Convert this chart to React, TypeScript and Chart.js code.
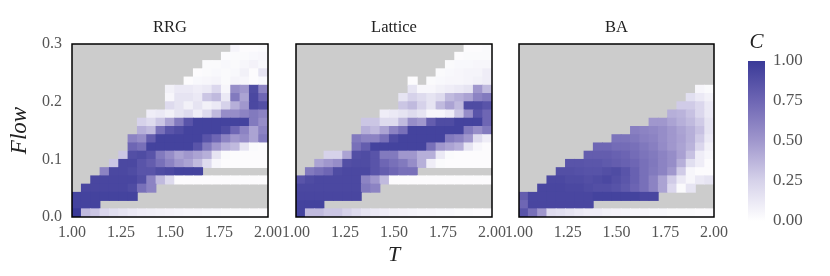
import { useEffect, useRef } from "react";
import { Chart, registerables } from "chart.js";

Chart.register(...registerables);

const N = null;

// axis ticks
const T_TICKS = [1.0, 1.25, 1.5, 1.75, 2.0];
const FLOW_TICKS = [0.0, 0.1, 0.2, 0.3];
const C_TICKS = [0.0, 0.25, 0.5, 0.75, 1.0];
const T_RANGE = [1.0, 2.0];
const FLOW_RANGE = [0.0, 0.3];
const PANEL_TITLES = ["RRG", "Lattice", "BA"];

// C values, rows listed from top (Flow = 0.3) to bottom (Flow = 0), columns T = 1 .. 2
const RRG = [
  [N, N, N, N, N, N, N, N, N, N, N, N, N, N, N, N, N, 0.06, 0.02, 0.02, 0.03],
  [N, N, N, N, N, N, N, N, N, N, N, N, N, N, N, N, 0.02, 0.03, 0.03, 0.04, 0.05],
  [N, N, N, N, N, N, N, N, N, N, N, N, N, N, 0.03, 0.03, 0.04, 0.03, 0.05, 0.07, 0.04],
  [N, N, N, N, N, N, N, N, N, N, N, N, N, 0.02, 0.03, 0.04, 0.03, 0.04, 0.08, 0.02, 0.15],
  [N, N, N, N, N, N, N, N, N, N, N, N, 0.02, 0.04, 0.05, 0.06, 0.03, 0.06, 0.05, 0.02, 0.04],
  [N, N, N, N, N, N, N, N, N, N, 0.08, 0.12, 0.12, 0.1, 0.12, 0.22, 0.05, 0.55, 0.5, 0.9, 0.6],
  [N, N, N, N, N, N, N, N, N, N, 0.05, 0.15, 0.15, 0.12, 0.3, 0.35, 0.12, 0.65, 0.45, 0.92, 0.75],
  [N, N, N, N, N, N, N, N, N, N, 0.2, 0.15, 0.08, 0.15, 0.08, 0.12, 0.25, 0.4, 0.5, 0.92, 0.88],
  [N, N, N, N, N, N, N, N, 0.1, 0.12, 0.08, 0.15, 0.2, 0.1, 0.2, 0.35, 0.55, 0.55, 0.6, 0.65, 0.6],
  [N, N, N, N, N, N, N, 0.25, 0.2, 0.3, 0.45, 0.65, 0.85, 0.95, 0.95, 0.95, 0.95, 0.95, 0.95, 0.65, 0.55],
  [N, N, N, N, N, N, N, 0.4, 0.35, 0.7, 0.85, 0.9, 0.95, 0.95, 0.95, 0.95, 0.9, 0.75, 0.6, 0.45, 0.6],
  [N, N, N, N, N, N, 0.6, 0.55, 0.8, 0.95, 0.95, 0.95, 0.95, 0.95, 0.85, 0.75, 0.6, 0.5, 0.55, 0.45, 0.65],
  [N, N, N, N, N, N, 0.75, 0.7, 0.95, 0.95, 0.95, 0.95, 0.95, 0.85, 0.65, 0.5, 0.4, 0.35, 0.15, 0.03, 0.02],
  [N, N, N, N, N, 0.3, 0.88, 0.9, 0.85, 0.65, 0.55, 0.45, 0.5, 0.45, 0.4, 0.15, 0.03, 0.02, 0.02, 0.02, 0.02],
  [N, N, N, N, 0.3, 0.92, 0.92, 0.85, 0.8, 0.7, 0.6, 0.5, 0.45, 0.35, 0.2, 0.05, 0.02, 0.02, 0.02, 0.02, 0.02],
  [N, N, N, 0.6, 0.92, 0.92, 0.9, 0.85, 0.85, 0.9, 0.92, 0.95, 0.95, 0.95, N, N, N, N, N, N, N],
  [N, N, 0.93, 0.93, 0.93, 0.93, 0.93, 0.88, 0.6, 0.35, 0.2, 0.02, 0.02, 0.02, 0.02, 0.02, 0.02, 0.02, 0.02, 0.02, 0.02],
  [N, 0.93, 0.93, 0.93, 0.93, 0.93, 0.9, 0.7, 0.6, N, N, N, N, N, N, N, N, N, N, N, N],
  [0.95, 0.95, 0.95, 0.95, 0.95, 0.95, 0.95, N, N, N, N, N, N, N, N, N, N, N, N, N, N],
  [0.95, 0.95, 0.95, N, N, N, N, N, N, N, N, N, N, N, N, N, N, N, N, N, N],
  [1.0, 0.35, 0.3, 0.22, 0.18, 0.15, 0.12, 0.1, 0.09, 0.08, 0.07, 0.06, 0.05, 0.05, 0.04, 0.04, 0.03, 0.03, 0.03, 0.02, 0.02],
];

const LATTICE = [
  [N, N, N, N, N, N, N, N, N, N, N, N, N, N, N, N, N, N, 0.02, 0.02, 0.03],
  [N, N, N, N, N, N, N, N, N, N, N, N, N, N, N, N, N, 0.02, 0.03, 0.03, 0.03],
  [N, N, N, N, N, N, N, N, N, N, N, N, N, N, N, N, 0.03, 0.04, 0.04, 0.05, 0.05],
  [N, N, N, N, N, N, N, N, N, N, N, N, N, N, N, 0.03, 0.04, 0.05, 0.06, 0.06, 0.1],
  [N, N, N, N, N, N, N, N, N, N, N, N, 0.02, N, 0.03, 0.04, 0.05, 0.05, 0.06, 0.08, 0.1],
  [N, N, N, N, N, N, N, N, N, N, N, N, 0.15, 0.05, 0.05, 0.08, 0.1, 0.12, 0.15, 0.5, 0.35],
  [N, N, N, N, N, N, N, N, N, N, N, 0.15, 0.25, 0.2, 0.15, 0.2, 0.35, 0.4, 0.45, 0.6, 0.65],
  [N, N, N, N, N, N, N, N, N, N, N, 0.3, 0.35, 0.25, 0.15, 0.35, 0.45, 0.35, 0.9, 0.9, 0.85],
  [N, N, N, N, N, N, N, N, N, 0.1, 0.12, 0.15, 0.2, 0.15, 0.05, 0.05, 0.1, 0.3, 0.55, 0.85, 0.75],
  [N, N, N, N, N, N, N, 0.3, 0.3, 0.2, 0.2, 0.35, 0.55, 0.5, 0.8, 0.9, 0.9, 0.95, 0.95, 0.95, 0.75],
  [N, N, N, N, N, N, N, 0.4, 0.35, 0.45, 0.6, 0.7, 0.95, 0.95, 0.95, 0.95, 0.95, 0.95, 0.65, 0.55, 0.65],
  [N, N, N, N, N, N, 0.65, 0.6, 0.6, 0.7, 0.9, 0.95, 0.95, 0.95, 0.95, 0.95, 0.65, 0.6, 0.5, 0.2, 0.1],
  [N, N, N, N, N, N, 0.7, 0.8, 0.95, 0.95, 0.95, 0.95, 0.95, 0.95, 0.7, 0.5, 0.45, 0.4, 0.15, 0.05, 0.02],
  [N, N, N, 0.25, 0.25, 0.45, 0.88, 0.9, 0.85, 0.65, 0.65, 0.5, 0.5, 0.4, 0.4, 0.12, 0.03, 0.02, 0.02, 0.02, 0.02],
  [N, N, 0.45, 0.5, 0.55, 0.88, 0.9, 0.9, 0.85, 0.75, 0.7, 0.65, 0.55, 0.4, 0.1, 0.03, 0.02, 0.02, 0.02, 0.02, 0.02],
  [N, 0.65, 0.7, 0.75, 0.9, 0.92, 0.92, 0.92, 0.85, 0.8, 0.75, 0.7, 0.7, N, N, N, N, N, N, N, N],
  [0.85, 0.9, 0.92, 0.92, 0.92, 0.92, 0.92, 0.6, 0.5, 0.35, 0.02, 0.02, 0.02, 0.02, 0.02, 0.02, 0.02, 0.02, 0.02, 0.02, 0.02],
  [0.92, 0.92, 0.92, 0.92, 0.92, 0.92, 0.92, 0.65, 0.6, N, N, N, N, N, N, N, N, N, N, N, N],
  [0.93, 0.93, 0.93, 0.93, 0.93, 0.93, 0.93, N, N, N, N, N, N, N, N, N, N, N, N, N, N],
  [0.95, 0.95, 0.95, N, N, N, N, N, N, N, N, N, N, N, N, N, N, N, N, N, N],
  [0.95, 0.35, 0.35, 0.3, 0.3, 0.25, 0.2, 0.15, 0.12, 0.1, 0.08, 0.07, 0.06, 0.05, 0.05, 0.04, 0.04, 0.03, 0.03, 0.02, 0.02],
];

const BA = [
  [N, N, N, N, N, N, N, N, N, N, N, N, N, N, N, N, N, N, N, N, N],
  [N, N, N, N, N, N, N, N, N, N, N, N, N, N, N, N, N, N, N, N, N],
  [N, N, N, N, N, N, N, N, N, N, N, N, N, N, N, N, N, N, N, N, N],
  [N, N, N, N, N, N, N, N, N, N, N, N, N, N, N, N, N, N, N, N, N],
  [N, N, N, N, N, N, N, N, N, N, N, N, N, N, N, N, N, N, N, N, N],
  [N, N, N, N, N, N, N, N, N, N, N, N, N, N, N, N, N, N, N, 0.05, 0.03],
  [N, N, N, N, N, N, N, N, N, N, N, N, N, N, N, N, N, N, 0.18, 0.12, 0.08],
  [N, N, N, N, N, N, N, N, N, N, N, N, N, N, N, N, N, 0.28, 0.28, 0.22, 0.12],
  [N, N, N, N, N, N, N, N, N, N, N, N, N, N, N, N, 0.4, 0.38, 0.32, 0.22, 0.12],
  [N, N, N, N, N, N, N, N, N, N, N, N, N, N, 0.5, 0.5, 0.45, 0.4, 0.35, 0.28, 0.15],
  [N, N, N, N, N, N, N, N, N, N, N, N, 0.62, 0.6, 0.58, 0.55, 0.5, 0.45, 0.4, 0.32, 0.15],
  [N, N, N, N, N, N, N, N, N, N, 0.68, 0.68, 0.66, 0.62, 0.6, 0.55, 0.5, 0.46, 0.4, 0.28, 0.12],
  [N, N, N, N, N, N, N, N, 0.75, 0.75, 0.72, 0.72, 0.7, 0.66, 0.62, 0.56, 0.5, 0.45, 0.38, 0.22, 0.08],
  [N, N, N, N, N, N, N, 0.8, 0.8, 0.8, 0.78, 0.76, 0.72, 0.68, 0.65, 0.6, 0.55, 0.46, 0.32, 0.1, 0.05],
  [N, N, N, N, N, 0.85, 0.85, 0.84, 0.84, 0.82, 0.8, 0.78, 0.75, 0.7, 0.66, 0.6, 0.55, 0.4, 0.18, 0.1, 0.02],
  [N, N, N, N, 0.88, 0.88, 0.87, 0.86, 0.86, 0.88, 0.9, 0.85, 0.78, 0.7, 0.65, 0.6, 0.5, 0.28, 0.05, 0.02, 0.02],
  [N, N, N, 0.92, 0.92, 0.9, 0.9, 0.88, 0.9, 0.92, 0.88, 0.84, 0.78, 0.7, 0.6, 0.45, 0.28, 0.12, 0.05, 0.12, 0.15],
  [N, N, 0.93, 0.93, 0.93, 0.92, 0.92, 0.9, 0.88, 0.88, 0.86, 0.82, 0.76, 0.7, 0.6, 0.45, 0.22, 0.03, 0.15, N, N],
  [0.8, 0.93, 0.93, 0.93, 0.93, 0.93, 0.93, 0.93, 0.95, 0.95, 0.95, 0.95, 0.95, 0.93, 0.93, N, N, N, N, N, N],
  [0.75, 0.93, 0.93, 0.93, 0.93, 0.93, 0.93, 0.93, N, N, N, N, N, N, N, N, N, N, N, N, N],
  [0.85, 0.7, 0.5, 0.2, 0.18, 0.15, 0.12, 0.1, 0.1, 0.08, 0.07, 0.06, 0.05, 0.05, 0.04, 0.04, 0.03, 0.03, 0.03, 0.02, 0.02],
];

const PANEL_DATA = [RRG, LATTICE, BA];

// ---- styles / layout ----
const W = 830;
const H = 276;
const PLOT_LEFT = [72, 296, 519];
const PLOT_RIGHT = [268, 492, 714];
const PLOT_TOP = 44;
const PLOT_BOTTOM = 217;
const TITLE_TOP = 18;
const CBAR = { left: 748, right: 765, top: 61, bottom: 221 };
const FONT = "'Liberation Serif', 'Times New Roman', Times, serif";
const TICK_COLOR = "#555555";
const TEXT_COLOR = "#222222";
const NAN_COLOR = "#cccccc";
const CMAP_STOPS: [number, number[]][] = [
  [0.0, [255, 255, 255]],
  [0.25, [214, 210, 234]],
  [0.5, [160, 151, 205]],
  [0.75, [110, 102, 180]],
  [1.0, [58, 58, 152]],
];

function cmap(v: number): string {
  const x = Math.max(0, Math.min(1, v));
  for (let i = 1; i < CMAP_STOPS.length; i++) {
    const [p1, c1] = CMAP_STOPS[i];
    const [p0, c0] = CMAP_STOPS[i - 1];
    if (x <= p1) {
      const f = (x - p0) / (p1 - p0);
      const c = c0.map((a, k) => Math.round(a + (c1[k] - a) * f));
      return `rgb(${c[0]},${c[1]},${c[2]})`;
    }
  }
  const c = CMAP_STOPS[CMAP_STOPS.length - 1][1];
  return `rgb(${c[0]},${c[1]},${c[2]})`;
}

const panelFrame = {
  id: "panelFrame",
  beforeDatasetsDraw(chart: any) {
    const { ctx, chartArea: a } = chart;
    ctx.save();
    ctx.fillStyle = NAN_COLOR;
    ctx.fillRect(a.left, a.top, a.right - a.left, a.bottom - a.top);
    ctx.restore();
  },
  afterDatasetsDraw(chart: any) {
    const { ctx, chartArea: a } = chart;
    ctx.save();
    ctx.strokeStyle = "#000";
    ctx.lineWidth = 1.5;
    ctx.strokeRect(a.left, a.top, a.right - a.left, a.bottom - a.top);
    ctx.restore();
  },
};

function buildDatasets(grid: (number | null)[][]) {
  const nRows = grid.length;
  const nCols = grid[0].length;
  const dT = (T_RANGE[1] - T_RANGE[0]) / nCols;
  const dF = (FLOW_RANGE[1] - FLOW_RANGE[0]) / nRows;
  const datasets: any[] = [];
  for (let r = 0; r < nRows; r++) {
    const row = grid[nRows - 1 - r];
    const data: any[] = [];
    const colors: string[] = [];
    row.forEach((v, c) => {
      if (v === null) return;
      data.push({
        x: T_RANGE[0] + (c + 0.5) * dT,
        y: [FLOW_RANGE[0] + r * dF, FLOW_RANGE[0] + (r + 1) * dF],
      });
      colors.push(cmap(v));
    });
    datasets.push({
      data,
      backgroundColor: colors,
      borderWidth: 0,
      grouped: false,
      barPercentage: 1,
      categoryPercentage: 1,
      inflateAmount: 0.4,
    });
  }
  return datasets;
}

function heatmapConfig(k: number): any {
  const first = k === 0;
  const withXTitle = k === 1;
  const yAxisWidth = 66;
  const padLeft = first ? PLOT_LEFT[k] - yAxisWidth : PLOT_LEFT[k];
  const padBottom = 8;
  const xAxisHeight = H - padBottom - PLOT_BOTTOM;
  return {
    type: "bar",
    data: { datasets: buildDatasets(PANEL_DATA[k]) },
    plugins: [panelFrame],
    options: {
      responsive: false,
      animation: false,
      events: [],
      layout: { padding: { left: padLeft, right: W - PLOT_RIGHT[k], top: TITLE_TOP, bottom: padBottom } },
      plugins: {
        legend: { display: false },
        tooltip: { enabled: false },
        title: {
          display: true,
          text: PANEL_TITLES[k],
          fullSize: false,
          color: TEXT_COLOR,
          font: { family: FONT, size: 16.5, weight: "normal", lineHeight: 1.2 },
          padding: { top: 0, bottom: PLOT_TOP - TITLE_TOP - 16.5 * 1.2 },
        },
      },
      scales: {
        x: {
          type: "linear",
          min: T_RANGE[0],
          max: T_RANGE[1],
          offset: false,
          grid: { display: false, drawTicks: false },
          border: { display: false },
          afterBuildTicks: (s: any) => {
            s.ticks = T_TICKS.map((v) => ({ value: v }));
          },
          afterFit: (s: any) => {
            s.height = xAxisHeight;
          },
          ticks: {
            autoSkip: false,
            maxRotation: 0,
            padding: 6,
            color: TICK_COLOR,
            font: { family: FONT, size: 16 },
            callback: (v: any) => Number(v).toFixed(2),
          },
          title: {
            display: withXTitle,
            text: "T",
            color: TEXT_COLOR,
            padding: 0,
            font: { family: FONT, size: 22, style: "italic", lineHeight: 1.2 },
          },
        },
        y: {
          type: "linear",
          display: first,
          min: FLOW_RANGE[0],
          max: FLOW_RANGE[1],
          grid: { display: false, drawTicks: false },
          border: { display: false },
          afterBuildTicks: (s: any) => {
            s.ticks = FLOW_TICKS.map((v) => ({ value: v }));
          },
          afterFit: (s: any) => {
            s.width = first ? yAxisWidth : 0;
          },
          ticks: {
            padding: 10,
            color: TICK_COLOR,
            font: { family: FONT, size: 16 },
            callback: (v: any) => Number(v).toFixed(1),
          },
          title: {
            display: first,
            text: "Flow",
            color: TEXT_COLOR,
            padding: 0,
            font: { family: FONT, size: 23, style: "italic", lineHeight: 1.2 },
          },
        },
      },
    },
  };
}

function colorbarConfig(): any {
  const axisWidth = 60;
  return {
    type: "bar",
    data: {
      labels: ["C"],
      datasets: [
        {
          data: [[C_TICKS[0], C_TICKS[C_TICKS.length - 1]]],
          borderWidth: 0,
          barPercentage: 1,
          categoryPercentage: 1,
          inflateAmount: 0,
          backgroundColor: (ctx: any) => {
            const chart = ctx.chart;
            const ys = chart.scales && chart.scales.y;
            if (!chart.chartArea || !ys) return cmap(0.5);
            const g = chart.ctx.createLinearGradient(0, ys.getPixelForValue(0), 0, ys.getPixelForValue(1));
            CMAP_STOPS.forEach(([p, c]) => g.addColorStop(p, `rgb(${c[0]},${c[1]},${c[2]})`));
            return g;
          },
        },
      ],
    },
    options: {
      responsive: false,
      animation: false,
      events: [],
      layout: {
        padding: { left: CBAR.left, right: W - CBAR.right - axisWidth, top: 30, bottom: H - CBAR.bottom },
      },
      plugins: {
        legend: { display: false },
        tooltip: { enabled: false },
        title: {
          display: true,
          text: "C",
          fullSize: false,
          color: TEXT_COLOR,
          font: { family: FONT, size: 21, style: "italic", weight: "normal", lineHeight: 1.2 },
          padding: { top: 0, bottom: CBAR.top - 30 - 21 * 1.2 },
        },
      },
      scales: {
        x: { display: false, offset: true },
        y: {
          position: "right",
          min: C_TICKS[0],
          max: C_TICKS[C_TICKS.length - 1],
          grid: { display: false, drawTicks: false },
          border: { display: false },
          afterBuildTicks: (s: any) => {
            s.ticks = C_TICKS.map((v) => ({ value: v }));
          },
          afterFit: (s: any) => {
            s.width = axisWidth;
          },
          ticks: {
            padding: 8,
            color: TICK_COLOR,
            font: { family: FONT, size: 17 },
            callback: (v: any) => Number(v).toFixed(2),
          },
        },
      },
    },
  };
}

export default function App() {
  const r0 = useRef<HTMLCanvasElement>(null);
  const r1 = useRef<HTMLCanvasElement>(null);
  const r2 = useRef<HTMLCanvasElement>(null);
  const r3 = useRef<HTMLCanvasElement>(null);
  const refs = [r0, r1, r2, r3];

  useEffect(() => {
    const charts: Chart[] = [];
    [r0, r1, r2].forEach((r, k) => {
      if (r.current) charts.push(new Chart(r.current, heatmapConfig(k)));
    });
    if (r3.current) charts.push(new Chart(r3.current, colorbarConfig()));
    return () => charts.forEach((c) => c.destroy());
  }, []);

  return (
    <div style={{ position: "fixed", left: 0, top: 0, width: W, height: H, background: "#fff" }}>
      {refs.map((r, i) => (
        <canvas
          key={i}
          ref={r}
          width={W}
          height={H}
          style={{ position: "absolute", left: 0, top: 0, width: W, height: H }}
        />
      ))}
    </div>
  );
}
